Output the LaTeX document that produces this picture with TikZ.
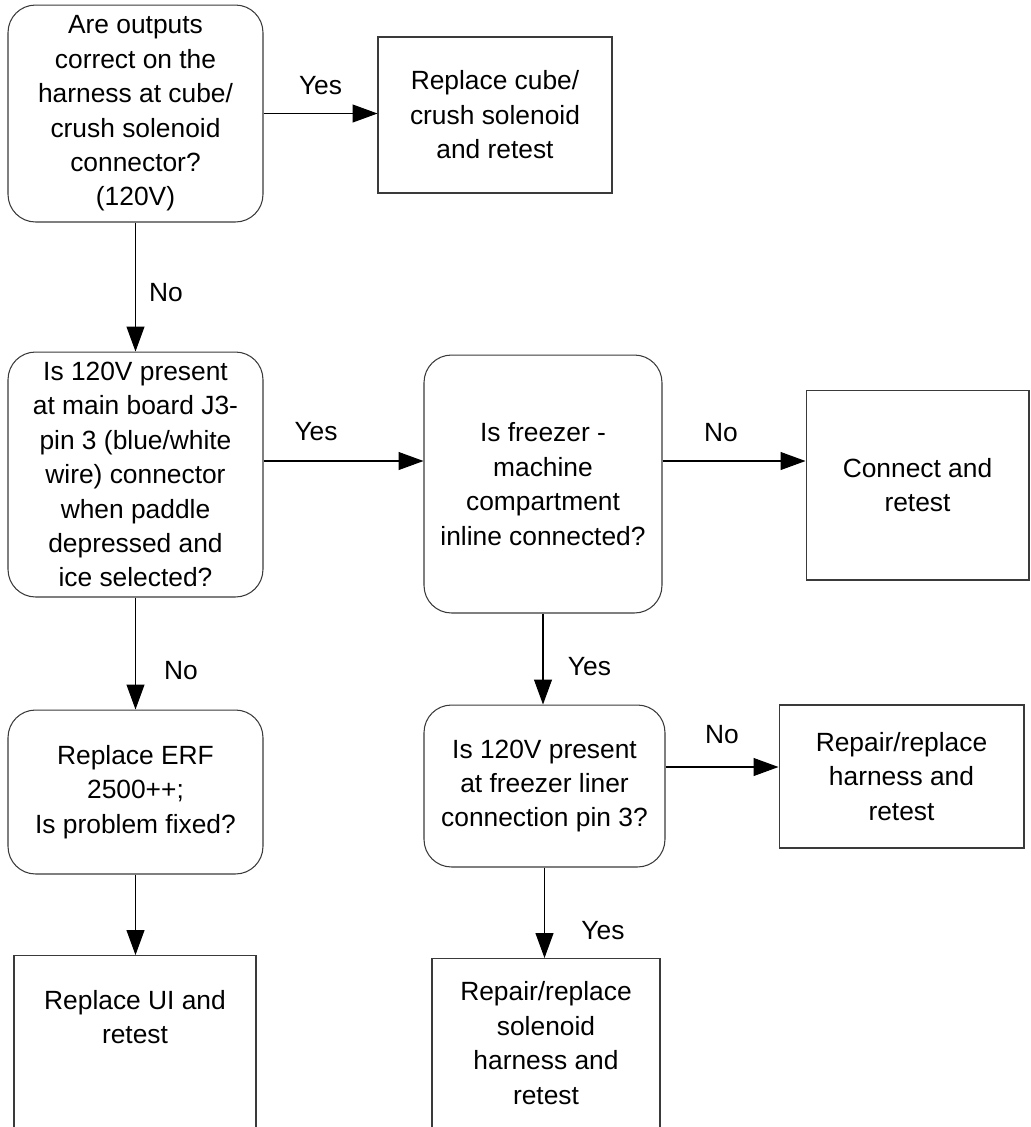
\documentclass[tikz,border=0pt]{standalone}
\usepackage{fontspec}
\setmainfont{Liberation Sans}
\usetikzlibrary{arrows.meta}
\definecolor{fline}{HTML}{3A3A3A}
\newcommand{\flowfont}{\fontsize{15}{19.6}\selectfont}
\tikzset{
  qbox/.style={draw=fline, rounded corners=0.55cm, align=center, font=\flowfont,
               line width=0.6pt, inner sep=2pt},
  abox/.style={draw=fline, align=center, font=\flowfont, line width=0.6pt, inner sep=2pt},
  txt/.style={align=center, font=\flowfont},
  arr/.style={-{Triangle[length=0.5cm, width=0.36cm]}, draw=black, line width=0.6pt},
  lbl/.style={font=\flowfont},
}

\begin{document}
\begin{tikzpicture}[x=0.02cm, y=-0.02cm]
  \useasboundingbox (0,0) rectangle (1031,1127);
  \clip (0,0) rectangle (1031,1127);

  % questions
  \node[qbox, minimum width=5.1cm, minimum height=4.34cm] (q1) at (135.5,113.5)
    {Are outputs\\correct on the\\harness at cube/\\crush solenoid\\connector?\\(120V)};
  \node[qbox, minimum width=5.1cm, minimum height=4.9cm] (q2) at (135.5,474.5)
    {Is 120V present\\at main board J3-\\pin 3 (blue/white\\wire) connector\\when paddle\\depressed and\\ice selected?};
  \node[qbox, minimum width=4.76cm, minimum height=5.16cm] (q3) at (543,484)
    {Is freezer -\\machine\\compartment\\inline connected?};
  \node[qbox, minimum width=5.1cm, minimum height=3.28cm] (q4) at (135.5,792)
    {Replace ERF\\2500++;\\Is problem fixed?};
  \node[qbox, minimum width=4.82cm, minimum height=3.24cm] (q5) at (544.5,786)
    {Is 120V present\\at freezer liner\\connection pin 3?};

  % actions
  \node[abox, minimum width=4.68cm, minimum height=3.12cm] (r1) at (495,115)
    {Replace cube/\\crush solenoid\\and retest};
  \node[abox, minimum width=4.46cm, minimum height=3.8cm] (r2) at (917.5,485)
    {Connect and\\retest};
  \node[abox, minimum width=4.9cm, minimum height=2.86cm] (r4) at (901.5,776.5)
    {Repair/replace\\harness and\\retest};
  \node[abox, minimum width=4.84cm, minimum height=4cm, anchor=north] (r3) at (135,955) {};
  \node[txt] (r3t) at (135,1017) {Replace UI and\\retest};
  \node[abox, minimum width=4.56cm, minimum height=4cm, anchor=north] (r5) at (546,958) {};
  \node[txt] (r5t) at (546,1043) {Repair/replace\\solenoid\\harness and\\retest};

  % connectors
  \draw[arr] (q1.east) -- node[lbl, yshift=0.56cm] {Yes} (q1.east -| r1.west);
  \draw[arr] (q1.south) -- node[lbl, xshift=0.61cm, yshift=-0.12cm] {No} (q1.south |- q2.north);
  \draw[arr] ([yshift=0.27cm]q2.east) -- node[lbl, xshift=-0.55cm, yshift=0.58cm] {Yes}
    ([yshift=0.27cm]q2.east -| q3.west);
  \draw[arr] ([yshift=0.46cm]q3.east) -- node[lbl, xshift=-0.26cm, yshift=0.56cm] {No}
    ([yshift=0.46cm]q3.east -| r2.west);
  \draw[arr] (q2.south) -- node[lbl, xshift=0.91cm, yshift=-0.35cm] {No} (q2.south |- q4.north);
  \draw[arr] (q3.south) -- node[lbl, xshift=0.93cm, yshift=-0.16cm] {Yes} (q3.south |- q5.north);
  \draw[arr] (q4.south) -- (q4.south |- r3.north);
  \draw[arr] ([yshift=0.38cm]q5.east) -- node[lbl, yshift=0.64cm] {No}
    ([yshift=0.38cm]q5.east -| r4.west);
  \draw[arr] (q5.south) -- node[lbl, xshift=1.17cm, yshift=-0.35cm] {Yes} (q5.south |- r5.north);
\end{tikzpicture}
\end{document}
